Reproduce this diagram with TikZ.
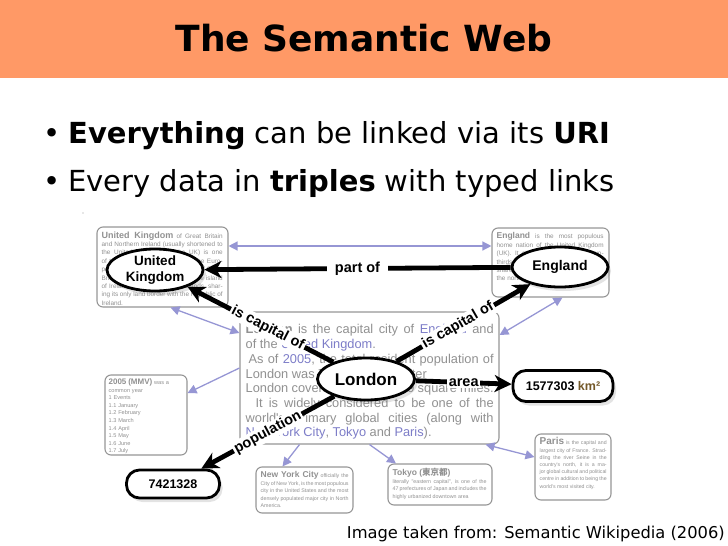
\documentclass[tikz,border=0pt]{standalone}
\usepackage{fontspec}
\setmainfont{DejaVu Sans}
\newfontfamily\arialfont{Liberation Sans}
\newfontfamily\cjkfont{Noto Sans CJK JP}
\usepackage{tikz}
\usetikzlibrary{shapes,arrows,arrows.meta,calc,positioning,shadows}
\definecolor{titlebg}{RGB}{255,153,102}
\definecolor{wikilav}{RGB}{150,150,212}
\definecolor{wikigray}{RGB}{150,150,150}
\definecolor{wikitext}{RGB}{145,145,145}
\definecolor{wikilink}{RGB}{125,125,200}
\definecolor{unitbrown}{RGB}{115,88,40}
\tikzstyle{wikibox} = [draw=wikigray, line width=1.1pt, rounded corners=6pt, inner sep=0pt, fill=white]
\tikzstyle{wikitxt} = [anchor=north west, inner sep=0pt, text=wikitext, align=justify, font=\arialfont\fontsize{6.4}{8.4}\selectfont]
\tikzstyle{wikiarrow} = [draw=wikilav, line width=1.3pt, {Triangle[length=9pt,width=9pt]}-{Triangle[length=9pt,width=9pt]}]
\tikzstyle{wikiref} = [draw=wikilav, line width=1.3pt, -{Triangle[length=9pt,width=9pt]}]
\tikzstyle{concept} = [ellipse, draw, line width=2.8pt, fill=white, inner sep=-14pt, align=center, font=\arialfont\bfseries\fontsize{13.5}{16.5}\selectfont, drop shadow={opacity=0.22,shadow xshift=3pt,shadow yshift=-4pt}]
\tikzstyle{valuebox} = [rectangle, rounded corners=13pt, draw, line width=2.8pt, fill=white, font=\arialfont\bfseries\fontsize{12.5}{14}\selectfont, drop shadow={opacity=0.22,shadow xshift=3pt,shadow yshift=-4pt}]
\tikzstyle{relation} = [line width=4.8pt, -{Stealth[length=17pt,width=17pt,inset=5pt]}]
\tikzstyle{rellabel} = [fill=white, inner sep=1.5pt, font=\arialfont\bfseries\fontsize{14.5}{17}\selectfont]

\begin{document}
\begin{tikzpicture}[x=1pt,y=-1pt]
\useasboundingbox (0,0) rectangle (728,546);
\tikzset{bullet/.style={anchor=base west, inner sep=0pt, font=\fontsize{29}{34}\selectfont}}

% title bar
\fill[titlebg] (0,0) rectangle (728,78);
\node[anchor=base, inner sep=0pt, font=\bfseries\fontsize{36}{40}\selectfont] (title) at (364,51) {The Semantic Web};

\node[bullet] (dot1) at (43,143) {•};
\node[bullet] (item1) at (68,143) {\textbf{Everything} can be linked via its \textbf{URI}};
\node[bullet] (dot2) at (43,191) {•};
\node[bullet] (item2) at (68,191) {Every data in \textbf{triples} with typed links};
\fill[wikigray] (83,213) circle (0.7);

% wikipedia pages
\node[wikibox, minimum width=131pt, minimum height=80pt] (ukbox) at (162.5,267) {};
\node[wikitxt, text width=121pt] (uktxt) at ([xshift=5pt,yshift=-5pt]ukbox.north west)
  {\textbf{\fontsize{9}{9}\selectfont United Kingdom} of Great Britain and Northern Ireland (usually shortened to the United Kingdom, or the UK) is one of twenty-five member states of the European Union. It occupies the island of Great Britain, the north-eastern part of the island of Ireland and many smaller islands, sharing its only land border with the Republic of Ireland.};

\node[wikibox, minimum width=117pt, minimum height=69pt] (engbox) at (550.5,262.5) {};
\node[wikitxt, text width=107pt] (engtxt) at ([xshift=5pt,yshift=-5pt]engbox.north west)
  {\textbf{\fontsize{8.5}{9}\selectfont England} is the most populous home nation of the United Kingdom (UK). It occupies the southern two-thirds of the island of Great Britain, and shares land borders with Scotland, to the north, and Wales, to the west.};

\node[wikibox, minimum width=259pt, minimum height=132pt] (lonbox) at (369.5,378) {};
\node[wikitxt, text width=248pt, font=\arialfont\fontsize{12.8}{14.7}\selectfont] (lontxt) at ([xshift=6pt,yshift=-13pt]lonbox.north west)
  {\textbf{London} is the capital city of \textcolor{wikilink}{England} and\linebreak of the \textcolor{wikilink}{United Kingdom}.\par
   \hspace*{3pt}As of \textcolor{wikilink}{2005}, the total resident population of\linebreak London was 7,421,328. Greater\par
   London covers an area of 609 square miles.\par
   \hspace*{10pt}It is widely considered to be one of the\linebreak world's primary global cities (along with\linebreak \textcolor{wikilink}{New York City}, \textcolor{wikilink}{Tokyo} and \textcolor{wikilink}{Paris}).};

\node[wikibox, minimum width=82pt, minimum height=80pt] (yearbox) at (146,415) {};
\node[wikitxt, text width=76pt, align=left, font=\arialfont\fontsize{5.6}{7.6}\selectfont] (yeartxt) at ([xshift=4pt,yshift=-4pt]yearbox.north west)
  {\textbf{\fontsize{8}{8}\selectfont 2005 (MMV)} was a\\ common year\\ 1 Events\\ 1.1 January\\ 1.2 February\\ 1.3 March\\ 1.4 April\\ 1.5 May\\ 1.6 June\\ 1.7 July};

\node[wikibox, minimum width=97pt, minimum height=46pt] (nybox) at (304.5,490) {};
\node[wikitxt, text width=88pt, font=\arialfont\fontsize{5.3}{7.4}\selectfont] (nytxt) at ([xshift=5pt,yshift=-5pt]nybox.north west)
  {\textbf{\fontsize{8.5}{9}\selectfont New York City} officially the City of New York, is the most populous city in the United States and the most densely populated major city in North America.};

\node[wikibox, minimum width=104pt, minimum height=41pt] (tokbox) at (440,484.5) {};
\node[wikitxt, text width=94pt, font=\arialfont\fontsize{5.3}{7.4}\selectfont] (toktxt) at ([xshift=5pt,yshift=-5pt]tokbox.north west)
  {{\bfseries\fontsize{8.5}{12}\selectfont Tokyo ({\cjkfont 東京都})}\par literally "eastern capital", is one of the 47 prefectures of Japan and includes the highly urbanized downtown area};

\node[wikibox, minimum width=76pt, minimum height=66pt] (parisbox) at (573,467) {};
\node[wikitxt, text width=67pt, font=\arialfont\fontsize{5.2}{7.2}\selectfont] (paristxt) at ([xshift=5pt,yshift=-4pt]parisbox.north west)
  {\textbf{\fontsize{10}{10}\selectfont Paris} is the capital and largest city of France. Straddling the river Seine in the country's north, it is a major global cultural and political centre in addition to being the world's most visited city.};

% links between the pages
\draw[wikiarrow] ([yshift=21pt]ukbox.east) -- ([yshift=16.5pt]engbox.west);
\draw[wikiarrow] ([xshift=8pt]ukbox.south) -- ([yshift=45pt]lonbox.west);
\draw[wikiarrow] ([xshift=12pt]engbox.south) -- ([yshift=43pt]lonbox.east);
\draw[wikiref] ([yshift=10pt]lonbox.west) -- ([yshift=22pt]yearbox.east);
\draw[wikiref] ([xshift=-70pt]lonbox.south) -- ([xshift=-22pt]nybox.north);
\draw[wikiref] ([xshift=0pt]lonbox.south) -- ([xshift=-44pt]tokbox.north);
\draw[wikiarrow] ([xshift=-14pt]lonbox.south east) -- ([yshift=10pt]parisbox.west);

% semantic layer
\node[concept, minimum width=96pt, minimum height=42pt] (uk) at (155,270) {United\\Kingdom};
\node[concept, minimum width=96pt, minimum height=40pt, font=\arialfont\bfseries\fontsize{14}{16}\selectfont] (eng) at (560,267) {England};
\node[concept, minimum width=97pt, minimum height=42pt, font=\arialfont\bfseries\fontsize{17}{20}\selectfont] (london) at (366,379) {London};
\node[valuebox, minimum width=100pt, minimum height=31pt] (areaval) at (563,386) {1577303 \textcolor{unitbrown}{km²}};
\node[valuebox, minimum width=93pt, minimum height=28pt] (popval) at (173,484) {7421328};

\draw[relation] (eng) -- node[rellabel, inner xsep=8pt] {part of} (uk);
\draw[relation] (london) -- node[rellabel, sloped, pos=0.45] {is capital of} (uk);
\draw[relation] (london) -- node[rellabel, sloped, pos=0.46] {is capital of} (eng);
\draw[relation] (london) -- node[rellabel] {area} (areaval);
\draw[relation] (london) -- node[rellabel, sloped] {population} (popval);

\node[anchor=base east, inner sep=0pt, font=\fontsize{16.3}{18}\selectfont] (source) at (725,538) {Image taken from: Semantic Wikipedia (2006)};
\end{tikzpicture}
\end{document}
